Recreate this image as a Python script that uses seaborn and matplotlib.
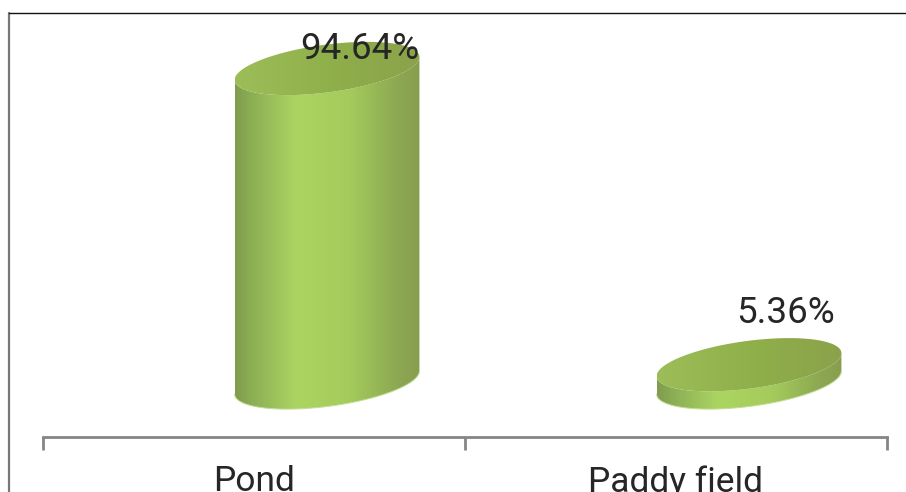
import numpy as np
import pandas as pd
import matplotlib
matplotlib.use("Agg")
import matplotlib.pyplot as plt
from matplotlib.colors import LinearSegmentedColormap
from matplotlib.lines import Line2D
from matplotlib.patches import Polygon
import seaborn as sns

categories = ["Pond", "Paddy field"]
shares = [94.64, 5.36]
share_labels = ["94.64%", "5.36%"]

W, H = 906, 492
sns.set_theme(style="white")
plt.rcParams["font.family"] = ["Roboto", "DejaVu Sans"]

fig = plt.figure(figsize=(W / 100, H / 100), dpi=100, facecolor="white")
ax = fig.add_axes([43 / W, 1 - 437 / H, 844 / W, 424 / H])

# Vertical scale: pixels per percentage point, with the floor of the columns above the axis line
PX_PER_UNIT = 3.318
FLOOR_PX = 54.5
ax.set_ylim(-FLOOR_PX / PX_PER_UNIT, (424 - FLOOR_PX) / PX_PER_UNIT)

df = pd.DataFrame({"site": categories, "share": shares})
sns.barplot(data=df, x="site", y="share", width=0.438, color="#a9d360", ax=ax)
ax.set_xlim(-0.5, 1.5)
ax.set_ylim(-FLOOR_PX / PX_PER_UNIT, (424 - FLOOR_PX) / PX_PER_UNIT)

side_cmap = LinearSegmentedColormap.from_list(
    "side", [(0, "#7f9c4e"), (0.08, "#8aad54"), (0.33, "#abd561"), (0.62, "#a5cb5c"),
             (0.88, "#8ca852"), (1, "#889e4f")])
top_cmap = LinearSegmentedColormap.from_list(
    "top", [(0, "#9dbd58"), (0.5, "#8fb04b"), (1, "#8ba24a")])

DEPTH = 73 / 422                 # sideways shift of the columns caused by the 3D view
TILT = 11.5 / PX_PER_UNIT        # rise of the ellipse from its left end to its centre
MINOR = 24.0 / PX_PER_UNIT       # vertical half-axis of the ellipse
LABEL_OFFSETS = [(33, 9), (37, 42)]  # label centre / baseline relative to the top centre


def ring(cx, cy, half_w, t):
    return np.column_stack([cx + half_w * np.cos(t), cy + TILT * np.cos(t) - MINOR * np.sin(t)])


for patch, value, text, (dx, dy) in zip(ax.patches, shares, share_labels, LABEL_OFFSETS):
    half_w = patch.get_width() / 2
    cx = patch.get_x() + half_w + DEPTH
    patch.set_visible(False)
    top_val = patch.get_height()

    front = np.linspace(0, np.pi, 120)
    whole = np.linspace(0, 2 * np.pi, 240)
    bottom_edge = ring(cx, 0, half_w, front)
    top_edge = ring(cx, top_val, half_w, front)

    # Curved wall with a horizontal shading gradient
    wall = Polygon(np.vstack([bottom_edge, top_edge[::-1]]), closed=True,
                   transform=ax.transData, facecolor="none", edgecolor="none")
    ax.add_patch(wall)
    img = ax.imshow(np.linspace(0, 1, 256)[None, :], cmap=side_cmap, aspect="auto",
                    extent=[cx - half_w, cx + half_w, -30, top_val + 20], zorder=2)
    img.set_clip_path(wall)
    ax.plot(bottom_edge[:, 0], bottom_edge[:, 1], color="#c4de96", lw=0.7, zorder=2.2)

    # Tilted lid
    lid = Polygon(ring(cx, top_val, half_w, whole), closed=True,
                  transform=ax.transData, facecolor="none", edgecolor="none")
    ax.add_patch(lid)
    lid_img = ax.imshow(np.linspace(0, 1, 256)[None, :], cmap=top_cmap, aspect="auto",
                        extent=[cx - half_w, cx + half_w, top_val - 15, top_val + 15], zorder=3)
    lid_img.set_clip_path(lid)

    ax.annotate(text, xy=(cx, top_val), xytext=(dx * 0.72, dy * 0.72),
                textcoords="offset points", ha="center", va="baseline",
                fontsize=26.5, color="#262626", zorder=5, annotation_clip=False)

ax.set_xlim(-0.5, 1.5)
ax.set_ylim(-FLOOR_PX / PX_PER_UNIT, (424 - FLOOR_PX) / PX_PER_UNIT)
ax.patch.set_alpha(0)
ax.set_xlabel("")
ax.set_ylabel("")
ax.set_yticks([])
for side in ("top", "left", "right"):
    ax.spines[side].set_visible(False)
ax.spines["bottom"].set_color("#858585")
ax.spines["bottom"].set_linewidth(2.0)

# Category separators hang below the axis line; labels stay centred between them
ax.set_xticks([-0.5, 0.5, 1.5], minor=True)
ax.tick_params(axis="x", which="minor", bottom=True, length=9.5, width=2.0,
               color="#858585", direction="out")
ax.tick_params(axis="x", which="major", bottom=True, length=0, pad=20.5,
               labelsize=25.5, labelcolor="#262626")

# Outer frame: only the top and left edges are drawn
fig.add_artist(Line2D([8.5 / W, 8.5 / W], [0, 1 - 13 / H], color="#777777", lw=1.6))
fig.add_artist(Line2D([8.5 / W, 1], [1 - 13 / H, 1 - 13 / H], color="#111111", lw=1.0))

fig.savefig("out.png", dpi=100, facecolor="white")
